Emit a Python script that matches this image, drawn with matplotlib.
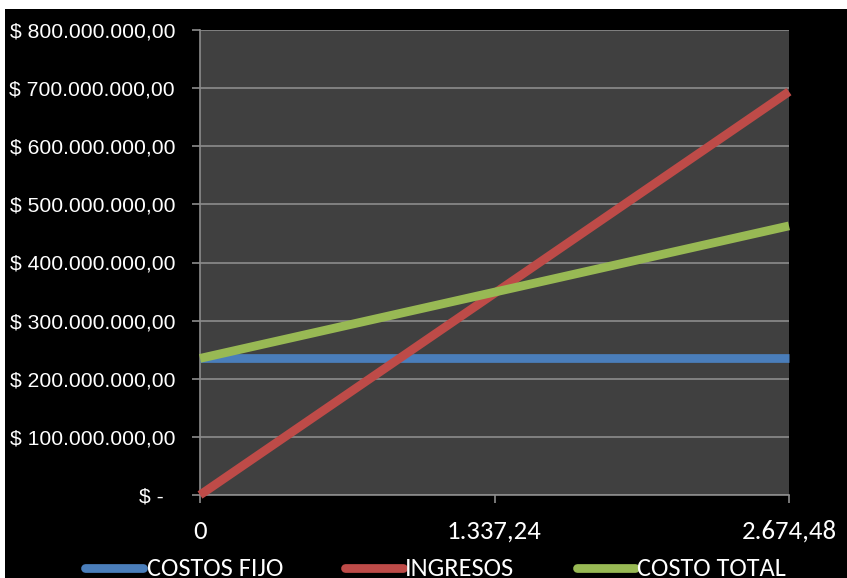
import matplotlib
matplotlib.use("Agg")
import matplotlib.pyplot as plt
from matplotlib.patches import Rectangle
from matplotlib.lines import Line2D
from matplotlib.ticker import FixedLocator

categories = ["0", "1.337,24", "2.674,48"]
costos_fijo = [235e6, 235e6, 235e6]
ingresos = [0, 347e6, 694e6]
costo_total = [235e6, 349e6, 463e6]
y_ticks = [0, 100e6, 200e6, 300e6, 400e6, 500e6, 600e6, 700e6, 800e6]
y_labels = ["$ -  ", "$ 100.000.000,00", "$ 200.000.000,00", "$ 300.000.000,00",
            "$ 400.000.000,00", "$ 500.000.000,00", "$ 600.000.000,00",
            "$ 700.000.000,00", "$ 800.000.000,00"]
series_names = ["COSTOS FIJO", "INGRESOS", "COSTO TOTAL"]
series_colors = ["#4a7ebb", "#be4b48", "#98b954"]

NARROW = ["Carlito", "Archivo Narrow", "DejaVu Sans"]
W, H = 847, 578
fig = plt.figure(figsize=(W / 100, H / 100), dpi=100, facecolor="white")
fig.patches.append(Rectangle((5 / W, 0), 1 - 5 / W, 1 - 9 / H, transform=fig.transFigure,
                             facecolor="black", edgecolor="none", zorder=-10))

ax = fig.add_axes([200 / W, (H - 495) / H, (789 - 200) / W, (495 - 30) / H])
ax.set_facecolor("#404040")

x = list(range(len(categories)))
for i, (vals, col, lab) in enumerate(zip([costos_fijo, ingresos, costo_total],
                                         series_colors, series_names)):
    ax.plot(x, vals, color=col, lw=6.3, solid_capstyle="butt", label=lab,
            clip_on=False, zorder=3 + i)

ax.set_xlim(0, len(categories) - 1)
ax.set_ylim(0, 800e6)
ax.yaxis.set_major_locator(FixedLocator(y_ticks))
ax.set_yticklabels(y_labels, fontsize=15.2, color="white",
                   family=["Liberation Sans", "DejaVu Sans"])
ax.set_xticks(x)
ax.set_xticklabels(categories, fontsize=19.3, color="white", family=NARROW)
ax.grid(axis="y", color="#8c8c8c", lw=1.2)
ax.set_axisbelow(True)
for s in ["top", "right"]:
    ax.spines[s].set_visible(False)
for s in ["left", "bottom"]:
    ax.spines[s].set_color("#8c8c8c")
    ax.spines[s].set_linewidth(1.2)
ax.tick_params(axis="y", length=6, width=1.2, color="#8c8c8c", pad=12)
ax.tick_params(axis="x", length=6, width=1.2, color="#8c8c8c", pad=12)

# legend drawn manually at the reference positions
leg_x = [(85, 143, 147), (345, 403, 405), (577, 635, 637)]
for (x0, x1, xt), col, lab in zip(leg_x, series_colors, series_names):
    fig.add_artist(Line2D([x0 / W, x1 / W], [(H - 568) / H] * 2, transform=fig.transFigure,
                          color=col, lw=6.3, solid_capstyle="round"))
    fig.text(xt / W, 2 / H, lab, color="white", fontsize=19, family=NARROW,
             ha="left", va="baseline")

fig.savefig("out.png", dpi=100, facecolor=fig.get_facecolor())
